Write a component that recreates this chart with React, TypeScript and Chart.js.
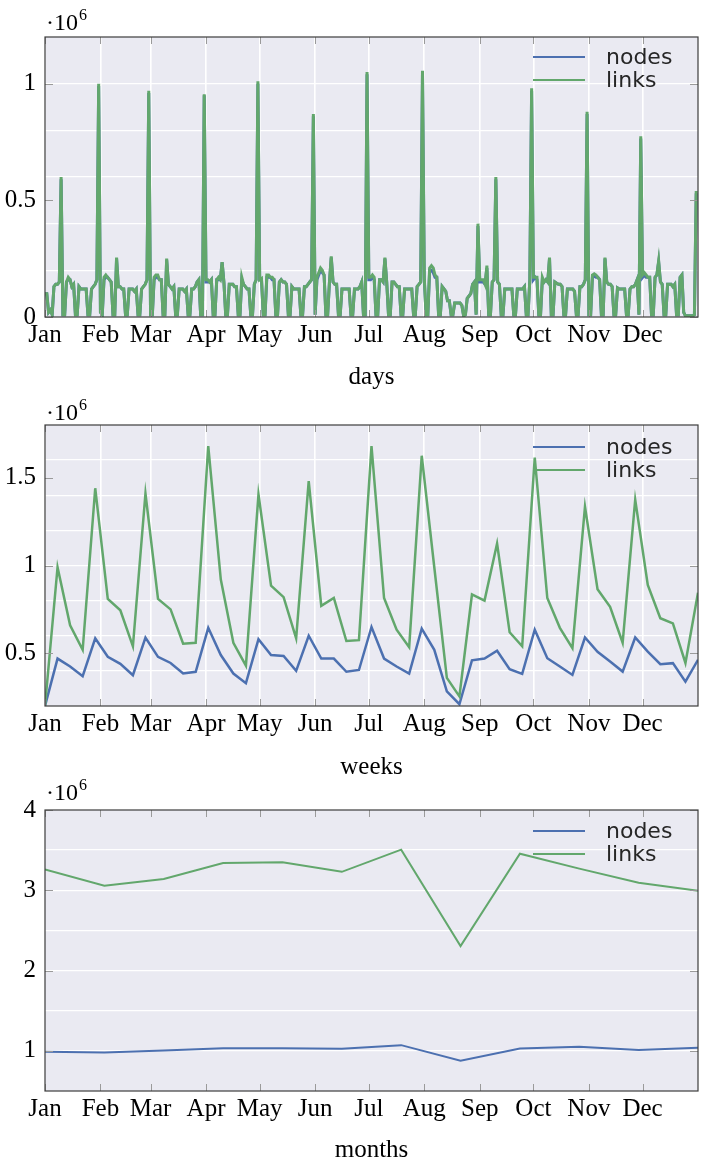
import React, { useEffect, useRef } from 'react';
import { Chart, registerables } from 'chart.js';

Chart.register(...registerables);

// ---------- data (values in units of 10^6) ----------
const monthLabels = ['Jan', 'Feb', 'Mar', 'Apr', 'May', 'Jun', 'Jul', 'Aug', 'Sep', 'Oct', 'Nov', 'Dec'];
const monthStartDays = [0, 31, 59, 90, 120, 151, 181, 212, 243, 273, 304, 334];
const daysInYear = 365;
const seriesNames = ['nodes', 'links'];

const dailyLinks = [
  0.10, 0.10, 0.02, 0.03, 0.01, 0.13, 0.14,
  0.14, 0.15, 0.60, 0.01, 0.01, 0.15, 0.17,
  0.16, 0.13, 0.14, 0.01, 0.01, 0.13, 0.12,
  0.12, 0.12, 0.12, 0.01, 0.01, 0.12, 0.13,
  0.14, 0.16, 1.00, 0.02, 0.01, 0.17, 0.18,
  0.17, 0.16, 0.15, 0.01, 0.01, 0.255, 0.13,
  0.13, 0.12, 0.12, 0.01, 0.01, 0.12, 0.12,
  0.12, 0.11, 0.12, 0.01, 0.01, 0.12, 0.13,
  0.14, 0.16, 0.97, 0.01, 0.01, 0.17, 0.18,
  0.18, 0.16, 0.16, 0.01, 0.01, 0.25, 0.14,
  0.13, 0.12, 0.13, 0.01, 0.01, 0.12, 0.12,
  0.12, 0.11, 0.12, 0.01, 0.01, 0.12, 0.12,
  0.13, 0.15, 0.16, 0.01, 0.01, 0.955, 0.16,
  0.16, 0.15, 0.16, 0.01, 0.01, 0.16, 0.17,
  0.16, 0.235, 0.15, 0.01, 0.01, 0.14, 0.14,
  0.14, 0.13, 0.13, 0.01, 0.01, 0.17, 0.14,
  0.13, 0.12, 0.12, 0.01, 0.01, 0.14, 0.16,
  1.01, 0.16, 0.165, 0.01, 0.01, 0.18, 0.18,
  0.17, 0.17, 0.16, 0.01, 0.01, 0.15, 0.16,
  0.15, 0.15, 0.14, 0.01, 0.01, 0.13, 0.12,
  0.12, 0.12, 0.12, 0.01, 0.01, 0.13, 0.13,
  0.14, 0.15, 0.16, 0.87, 0.01, 0.17, 0.19,
  0.21, 0.20, 0.18, 0.01, 0.01, 0.15, 0.26,
  0.15, 0.14, 0.14, 0.01, 0.01, 0.12, 0.12,
  0.12, 0.12, 0.12, 0.01, 0.01, 0.12, 0.12,
  0.12, 0.13, 0.15, 0.01, 0.01, 1.05, 0.17,
  0.17, 0.18, 0.17, 0.01, 0.01, 0.16, 0.16,
  0.15, 0.255, 0.15, 0.01, 0.01, 0.15, 0.15,
  0.14, 0.13, 0.13, 0.01, 0.01, 0.12, 0.12,
  0.12, 0.12, 0.12, 0.01, 0.01, 0.13, 0.14,
  0.15, 1.055, 0.17, 0.01, 0.01, 0.21, 0.22,
  0.21, 0.18, 0.17, 0.01, 0.01, 0.13, 0.12,
  0.11, 0.07, 0.07, 0.01, 0.01, 0.06, 0.06,
  0.06, 0.06, 0.05, 0.005, 0.01, 0.08, 0.09,
  0.10, 0.14, 0.15, 0.01, 0.40, 0.16, 0.16,
  0.16, 0.14, 0.22, 0.01, 0.01, 0.15, 0.16,
  0.60, 0.15, 0.14, 0.01, 0.01, 0.12, 0.12,
  0.12, 0.12, 0.12, 0.01, 0.01, 0.12, 0.12,
  0.12, 0.12, 0.13, 0.01, 0.01, 0.16, 0.98,
  0.17, 0.17, 0.17, 0.01, 0.01, 0.17, 0.15,
  0.16, 0.15, 0.255, 0.01, 0.01, 0.15, 0.145,
  0.14, 0.14, 0.13, 0.01, 0.01, 0.12, 0.12,
  0.12, 0.12, 0.11, 0.01, 0.01, 0.13, 0.13,
  0.14, 0.16, 0.88, 0.01, 0.01, 0.18, 0.185,
  0.18, 0.17, 0.16, 0.01, 0.01, 0.255, 0.15,
  0.14, 0.14, 0.13, 0.01, 0.01, 0.125, 0.12,
  0.12, 0.12, 0.12, 0.01, 0.01, 0.12, 0.13,
  0.13, 0.14, 0.16, 0.01, 0.775, 0.18, 0.19,
  0.18, 0.17, 0.17, 0.01, 0.01, 0.17, 0.18,
  0.24, 0.15, 0.14, 0.01, 0.01, 0.14, 0.14,
  0.14, 0.13, 0.14, 0.01, 0.01, 0.17, 0.18,
  0.02, 0.005, 0.005, 0.005, 0.005, 0.005, 0.01,
  0.54,
];

const dailyNodes = [
  0.10, 0.10, 0.02, 0.03, 0.01, 0.13, 0.14,
  0.14, 0.15, 0.59, 0.01, 0.01, 0.15, 0.16,
  0.16, 0.13, 0.14, 0.01, 0.01, 0.13, 0.12,
  0.12, 0.12, 0.12, 0.01, 0.01, 0.12, 0.13,
  0.14, 0.16, 0.99, 0.02, 0.01, 0.16, 0.17,
  0.17, 0.16, 0.15, 0.01, 0.01, 0.25, 0.13,
  0.13, 0.12, 0.12, 0.01, 0.01, 0.12, 0.12,
  0.12, 0.11, 0.12, 0.01, 0.01, 0.12, 0.13,
  0.14, 0.16, 0.96, 0.01, 0.01, 0.16, 0.17,
  0.17, 0.16, 0.16, 0.01, 0.01, 0.245, 0.14,
  0.13, 0.12, 0.13, 0.01, 0.01, 0.12, 0.12,
  0.12, 0.11, 0.12, 0.01, 0.01, 0.12, 0.12,
  0.13, 0.15, 0.16, 0.01, 0.01, 0.95, 0.15,
  0.15, 0.15, 0.16, 0.01, 0.01, 0.16, 0.16,
  0.16, 0.235, 0.15, 0.01, 0.01, 0.14, 0.14,
  0.14, 0.13, 0.13, 0.01, 0.01, 0.16, 0.14,
  0.13, 0.12, 0.12, 0.01, 0.01, 0.14, 0.16,
  1.00, 0.16, 0.16, 0.01, 0.01, 0.17, 0.17,
  0.17, 0.16, 0.16, 0.01, 0.01, 0.15, 0.16,
  0.15, 0.15, 0.14, 0.01, 0.01, 0.13, 0.12,
  0.12, 0.12, 0.12, 0.01, 0.01, 0.13, 0.13,
  0.14, 0.15, 0.16, 0.86, 0.01, 0.16, 0.18,
  0.20, 0.19, 0.18, 0.01, 0.01, 0.15, 0.255,
  0.15, 0.14, 0.14, 0.01, 0.01, 0.12, 0.12,
  0.12, 0.12, 0.12, 0.01, 0.01, 0.12, 0.12,
  0.12, 0.13, 0.15, 0.01, 0.01, 1.04, 0.16,
  0.16, 0.17, 0.16, 0.01, 0.01, 0.16, 0.16,
  0.15, 0.25, 0.15, 0.01, 0.01, 0.15, 0.15,
  0.14, 0.13, 0.13, 0.01, 0.01, 0.12, 0.12,
  0.12, 0.12, 0.12, 0.01, 0.01, 0.13, 0.14,
  0.15, 1.045, 0.16, 0.01, 0.01, 0.20, 0.20,
  0.19, 0.17, 0.17, 0.01, 0.01, 0.13, 0.12,
  0.11, 0.07, 0.07, 0.01, 0.01, 0.06, 0.06,
  0.06, 0.06, 0.05, 0.005, 0.01, 0.08, 0.09,
  0.10, 0.14, 0.15, 0.01, 0.39, 0.15, 0.15,
  0.15, 0.14, 0.21, 0.01, 0.01, 0.15, 0.16,
  0.59, 0.15, 0.14, 0.01, 0.01, 0.12, 0.12,
  0.12, 0.12, 0.12, 0.01, 0.01, 0.12, 0.12,
  0.12, 0.12, 0.13, 0.01, 0.01, 0.16, 0.97,
  0.16, 0.17, 0.16, 0.01, 0.01, 0.16, 0.15,
  0.16, 0.15, 0.25, 0.01, 0.01, 0.15, 0.145,
  0.14, 0.14, 0.13, 0.01, 0.01, 0.12, 0.12,
  0.12, 0.12, 0.11, 0.01, 0.01, 0.13, 0.13,
  0.14, 0.16, 0.87, 0.01, 0.01, 0.17, 0.175,
  0.17, 0.17, 0.16, 0.01, 0.01, 0.25, 0.15,
  0.14, 0.14, 0.13, 0.01, 0.01, 0.125, 0.12,
  0.12, 0.12, 0.12, 0.01, 0.01, 0.12, 0.13,
  0.13, 0.14, 0.16, 0.01, 0.765, 0.17, 0.18,
  0.17, 0.17, 0.17, 0.01, 0.01, 0.17, 0.18,
  0.235, 0.15, 0.14, 0.01, 0.01, 0.14, 0.14,
  0.14, 0.13, 0.14, 0.01, 0.01, 0.17, 0.18,
  0.02, 0.005, 0.005, 0.005, 0.005, 0.005, 0.01,
  0.53,
];

const weeklyLinks = [
  0.20, 0.99, 0.66, 0.52, 1.44, 0.81, 0.745, 0.54, 1.41, 0.81,
  0.75, 0.555, 0.56, 1.68, 0.92, 0.56, 0.43, 1.405, 0.885, 0.82,
  0.585, 1.48, 0.77, 0.815, 0.57, 0.575, 1.68, 0.815, 0.635, 0.535,
  1.625, 0.99, 0.36, 0.255, 0.835, 0.80, 1.125, 0.62, 0.54, 1.615,
  0.815, 0.645, 0.53, 1.335, 0.865, 0.765, 0.56, 1.375, 0.89, 0.70,
  0.67, 0.445, 0.845,
];

const weeklyNodes = [
  0.20, 0.47, 0.425, 0.37, 0.585, 0.48, 0.44, 0.375, 0.59, 0.48,
  0.445, 0.385, 0.395, 0.645, 0.49, 0.385, 0.33, 0.58, 0.49, 0.485,
  0.40, 0.60, 0.47, 0.47, 0.395, 0.405, 0.65, 0.47, 0.425, 0.385,
  0.64, 0.52, 0.283, 0.21, 0.46, 0.47, 0.515, 0.41, 0.383, 0.634,
  0.472, 0.425, 0.377, 0.59, 0.509, 0.453, 0.396, 0.59, 0.51, 0.438,
  0.444, 0.339, 0.463,
];

const monthlyLinks = [3.26, 3.057, 3.14, 3.34, 3.35, 3.23, 3.506, 2.305, 3.456, 3.27, 3.094, 2.995];
const monthlyNodes = [0.988, 0.98, 1.005, 1.034, 1.034, 1.025, 1.071, 0.876, 1.03, 1.05, 1.01, 1.038];

const dailyYLabels = [0, 0.5, 1];
const dailyYGrid = [0.2, 0.4, 0.6, 0.8, 1];
const weeklyYLabels = [0.5, 1, 1.5];
const weeklyYGrid = [0.4, 0.6, 0.8, 1, 1.2, 1.4, 1.6];
const monthlyYLabels = [1, 2, 3, 4];
const monthlyYGrid = [1, 1.5, 2, 2.5, 3, 3.5];

// ---------- styles ----------
const NODE_COLOR = '#4C70B0';
const LINK_COLOR = '#62A76C';
const BG = '#EAEAF2';
const SERIF = '"Liberation Serif", "Times New Roman", serif';
const SANS = '"DejaVu Sans", sans-serif';
const LABEL_SIZE = 25;

type Panel = {
  title: string;
  links: number[];
  nodes: number[];
  xMax: number;
  yMin: number;
  yMax: number;
  yLabels: number[];
  yGrid: number[];
  vGrid: boolean;
  lineWidth: number;
  top: number;
  height: number;
  plotTop: number;
  plotBottom: number;
  expBaseline: number;
  legendY: number;
  titlePad: number;
};

const panels: Panel[] = [
  {
    title: 'days', links: dailyLinks, nodes: dailyNodes, xMax: 365,
    yMin: 0, yMax: 1.2, yLabels: dailyYLabels, yGrid: dailyYGrid, vGrid: true,
    lineWidth: 3, top: 0, height: 390, plotTop: 37, plotBottom: 317,
    expBaseline: 30, legendY: 57, titlePad: -2,
  },
  {
    title: 'weeks', links: weeklyLinks, nodes: weeklyNodes, xMax: 52,
    yMin: 0.2, yMax: 1.8, yLabels: weeklyYLabels, yGrid: weeklyYGrid, vGrid: true,
    lineWidth: 2.5, top: 390, height: 385, plotTop: 35, plotBottom: 316,
    expBaseline: 30, legendY: 57, titlePad: -7,
  },
  {
    title: 'months', links: monthlyLinks, nodes: monthlyNodes, xMax: 11,
    yMin: 0.5, yMax: 4, yLabels: monthlyYLabels, yGrid: monthlyYGrid, vGrid: false,
    lineWidth: 2, top: 775, height: 385, plotTop: 35, plotBottom: 316,
    expBaseline: 25, legendY: 56, titlePad: -5,
  },
];

function decorPlugin(p: Panel) {
  return {
    id: 'decor',
    beforeDraw(chart: any) {
      const { ctx, chartArea: a } = chart;
      ctx.save();
      ctx.fillStyle = BG;
      ctx.fillRect(a.left, a.top, a.right - a.left, a.bottom - a.top);
      ctx.restore();
    },
    afterDraw(chart: any) {
      const { ctx, chartArea: a, scales } = chart;
      ctx.save();
      // tick marks (inside the axis box)
      ctx.strokeStyle = '#9a9a9a';
      ctx.lineWidth = 1;
      ctx.beginPath();
      scales.x.ticks.forEach((t: any) => {
        const x = Math.round(scales.x.getPixelForValue(t.value)) + 0.5;
        ctx.moveTo(x, a.bottom);
        ctx.lineTo(x, a.bottom - 7);
        ctx.moveTo(x, a.top);
        ctx.lineTo(x, a.top + 7);
      });
      p.yLabels.forEach((v) => {
        const y = Math.round(scales.y.getPixelForValue(v)) + 0.5;
        ctx.moveTo(a.left, y);
        ctx.lineTo(a.left + 8, y);
        ctx.moveTo(a.right, y);
        ctx.lineTo(a.right - 8, y);
      });
      ctx.stroke();
      // frame
      ctx.strokeStyle = '#3c3c3c';
      ctx.lineWidth = 1.2;
      ctx.strokeRect(a.left, a.top, a.right - a.left, a.bottom - a.top);
      // exponent label
      ctx.fillStyle = '#000';
      ctx.textAlign = 'left';
      ctx.textBaseline = 'alphabetic';
      ctx.font = `24px ${SERIF}`;
      const base = '\u00B710';
      ctx.fillText(base, a.left + 1, p.expBaseline);
      const w = ctx.measureText(base).width;
      ctx.font = `16px ${SERIF}`;
      ctx.fillText('6', a.left + 2 + w, p.expBaseline - 10);
      // legend
      const entries: [string, string, number][] = [
        [NODE_COLOR, seriesNames[0], p.legendY],
        [LINK_COLOR, seriesNames[1], p.legendY + 23],
      ];
      ctx.font = `22px ${SANS}`;
      entries.forEach(([c, label, y]) => {
        ctx.strokeStyle = c;
        ctx.lineWidth = 2;
        ctx.beginPath();
        ctx.moveTo(533, y);
        ctx.lineTo(585, y);
        ctx.stroke();
        ctx.fillStyle = '#262626';
        ctx.fillText(label, 606, y + 7);
      });
      ctx.restore();
    },
  };
}

function PanelChart({ p }: { p: Panel }) {
  const ref = useRef<HTMLCanvasElement>(null);
  useEffect(() => {
    const canvas = ref.current;
    if (!canvas) return;
    const xTickValues = monthStartDays.map((d) => (d * p.xMax) / daysInYear);
    const yAll = Array.from(new Set([p.yMin, p.yMax, ...p.yLabels, ...p.yGrid])).sort((a, b) => a - b);
    const chart = new Chart(canvas, {
      type: 'line',
      data: {
        datasets: [
          {
            label: seriesNames[1],
            data: p.links.map((y, i) => ({ x: i, y })),
            borderColor: LINK_COLOR,
            borderWidth: p.lineWidth,
            pointRadius: 0,
            tension: 0,
            fill: false,
          },
          {
            label: seriesNames[0],
            data: p.nodes.map((y, i) => ({ x: i, y })),
            borderColor: NODE_COLOR,
            borderWidth: p.lineWidth,
            pointRadius: 0,
            tension: 0,
            fill: false,
          },
        ],
      },
      options: {
        responsive: false,
        animation: false,
        devicePixelRatio: 1,
        layout: { padding: { top: p.plotTop, left: 0, right: 8, bottom: 0 } },
        plugins: { legend: { display: false }, tooltip: { enabled: false } },
        scales: {
          x: {
            type: 'linear',
            min: 0,
            max: p.xMax,
            afterBuildTicks: (s: any) => {
              s.ticks = xTickValues.map((v) => ({ value: v }));
            },
            afterFit: (s: any) => {
              s.height = p.height - p.plotBottom;
            },
            ticks: {
              autoSkip: false,
              maxRotation: 0,
              minRotation: 0,
              padding: 3,
              color: '#000',
              font: { family: SERIF, size: LABEL_SIZE },
              callback: (_v: any, i: number) => monthLabels[i],
            },
            grid: { display: p.vGrid, drawTicks: false, color: '#ffffff', lineWidth: 1.6 },
            border: { display: false },
            title: {
              display: true,
              text: p.title,
              color: '#000',
              font: { family: SERIF, size: LABEL_SIZE },
              padding: { top: 0, bottom: p.titlePad },
            },
          },
          y: {
            type: 'linear',
            min: p.yMin,
            max: p.yMax,
            afterBuildTicks: (s: any) => {
              s.ticks = yAll.map((v) => ({ value: v }));
            },
            afterFit: (s: any) => {
              s.width = 45;
            },
            ticks: {
              autoSkip: false,
              padding: 9,
              color: '#000',
              font: { family: SERIF, size: LABEL_SIZE },
              callback: (v: any) => (p.yLabels.includes(v) ? String(v) : ''),
            },
            grid: {
              drawTicks: false,
              lineWidth: 1.3,
              color: (ctx: any) =>
                ctx.tick && p.yGrid.includes(ctx.tick.value) ? '#ffffff' : 'rgba(0,0,0,0)',
            },
            border: { display: false },
          },
        },
      },
      plugins: [decorPlugin(p)],
    } as any);
    return () => chart.destroy();
  }, [p]);
  return (
    <canvas
      ref={ref}
      width={706}
      height={p.height}
      style={{ display: 'block', width: 706, height: p.height }}
    />
  );
}

export default function App() {
  return (
    <div style={{ position: 'absolute', left: 0, top: 0, width: 706, height: 1160, background: '#fff' }}>
      {panels.map((p, i) => (
        <div key={i} style={{ position: 'absolute', left: 0, top: p.top, width: 706, height: p.height }}>
          <PanelChart p={p} />
        </div>
      ))}
    </div>
  );
}
